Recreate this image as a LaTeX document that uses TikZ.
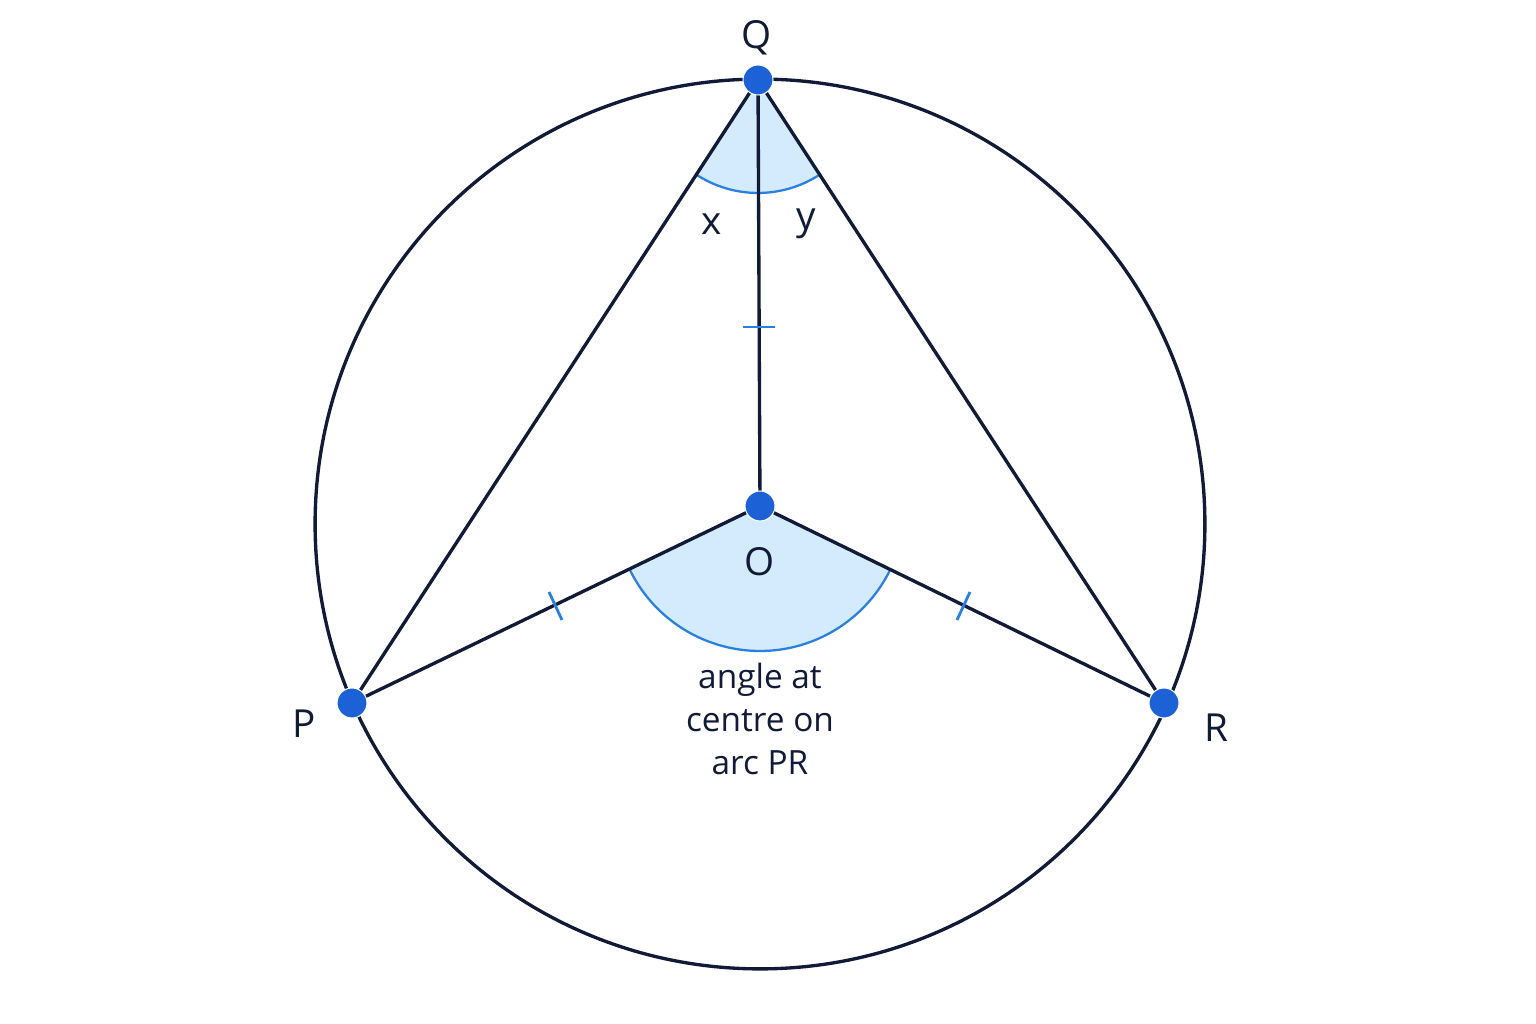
\documentclass[tikz,border=0pt]{standalone}
\usepackage{fontspec}
\setmainfont{Open Sans}
\usetikzlibrary{calc}
\definecolor{navy}{HTML}{111A36}
\definecolor{dotb}{HTML}{1C62D6}
\definecolor{lfill}{HTML}{D3EBFC}
\definecolor{arcb}{HTML}{2A80E2}
\begin{document}
\begin{tikzpicture}[x=0.02cm,y=0.02cm,
  seg/.style={navy,line width=1.9pt},
  dot/.style={circle,fill=dotb,draw=white,line width=0.6pt,minimum size=0.6cm,inner sep=0pt},
  lab/.style={text=navy,font=\fontsize{22}{26}\selectfont},
  tick/.style={arcb,line width=1.6pt},
  wedge/.style={fill=lfill,draw=none},
  warc/.style={arcb,line width=1.3pt}]
\useasboundingbox (0,0) rectangle (1536,1024);
\coordinate (C) at (760,500);
\coordinate (Q) at (758,944);
\coordinate (O) at (760,518);
\coordinate (P) at (352,321);
\coordinate (R) at (1164,321);
\draw[seg] (C) circle (8.9cm);
% wedges
\fill[lfill] (Q) -- ++(236.9:2.26cm) arc (236.9:303.1:2.26cm) -- cycle;
\draw[warc] (Q) ++(236.9:2.26cm) arc (236.9:303.1:2.26cm);
\fill[lfill] (O) -- ++(205.8:2.9cm) arc (205.8:334.2:2.9cm) -- cycle;
\draw[warc] (O) ++(205.8:2.9cm) arc (205.8:334.2:2.9cm);
% segments
\draw[seg] (Q) -- (P);
\draw[seg] (Q) -- (R);
\draw[seg] (Q) -- (O);
\draw[seg] (O) -- (P);
\draw[seg] (O) -- (R);
% ticks
\draw[tick] (743,697) -- (775,697);
\draw[tick] (549,432) -- (562,404);
\draw[tick] (970,432) -- (957,404);
% dots
\node[dot] (q) at (Q) {};
\node[dot] (o) at (O) {};
\node[dot] (p) at (P) {};
\node[dot] (r) at (R) {};
% labels
\node[lab] (lq) at (757,986) {Q};
\node[lab] (lx) at (712,800) {x};
\node[lab] (ly) at (806,800) {y};
\node[lab] (lo) at (760,462) {O};
\node[lab] (lp) at (304,300) {P};
\node[lab] (lr) at (1216,296) {R};
\node[text=navy,font=\fontsize{19}{24.5}\selectfont,align=center] (t) at (760,305) {angle at\\centre on\\arc PR};
\end{tikzpicture}
\end{document}
